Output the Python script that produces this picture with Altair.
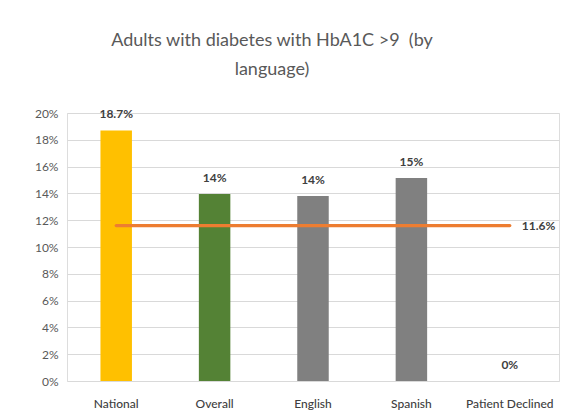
import altair as alt
import pandas as pd

categories = ["National", "Overall", "English", "Spanish", "Patient Declined"]
values = [0.187, 0.1395, 0.138, 0.1515, 0.0]
value_labels = ["18.7%", "14%", "14%", "15%", "0%"]
bar_colors = ["#FFC000", "#548235", "#808080", "#808080", "#808080"]
benchmark = 0.116
benchmark_label = "11.6%"
y_ticks = [0, 0.02, 0.04, 0.06, 0.08, 0.10, 0.12, 0.14, 0.16, 0.18, 0.20]

FONT = "Lato"

bars_df = pd.DataFrame({"cat": categories, "val": values, "lab": value_labels})
line_df = pd.DataFrame({"cat": categories, "val": [benchmark] * len(categories)})
bench_lab_df = pd.DataFrame({"cat": [categories[-1]], "val": [benchmark], "lab": [benchmark_label]})

x = alt.X("cat:N", sort=categories, title=None,
          scale=alt.Scale(paddingInner=0.68, paddingOuter=0.34),
          axis=alt.Axis(labelAngle=0, ticks=False, domain=False, labelPadding=17,
                        labelFont=FONT, labelFontSize=12, labelColor="#404040",
                        labelFontWeight=500, labelOverlap=False))
y = alt.Y("val:Q", title=None,
          scale=alt.Scale(domain=[0, 0.2], nice=False),
          axis=alt.Axis(values=y_ticks, format=".0%", ticks=False, domain=False,
                        labelOverlap=False, labelPadding=9, labelFont=FONT, labelFontSize=12,
                        labelColor="#595959", gridColor="#D9D9D9", gridWidth=1.2))

bars = alt.Chart(bars_df).mark_bar().encode(
    x=x, y=y,
    color=alt.Color("cat:N", scale=alt.Scale(domain=categories, range=bar_colors), legend=None),
)
bar_text = alt.Chart(bars_df).mark_text(
    dy=-12, baseline="alphabetic", font=FONT, fontSize=12, fontWeight="bold", color="#404040"
).encode(x=x, y=y, text="lab:N")

line = alt.Chart(line_df).mark_line(color="#ED7D31", strokeWidth=3.2, strokeCap="round").encode(
    x=x, y=y)
line_text = alt.Chart(bench_lab_df).mark_text(
    align="left", dx=12, baseline="middle", font=FONT, fontSize=12, fontWeight="bold", color="#404040"
).encode(x=x, y=y, text="lab:N")

chart = alt.layer(bars, bar_text, line, line_text).properties(
    width=492, height=268,
    title=alt.TitleParams(
        text=["Adults with diabetes with HbA1C >9 \u00a0(by", "language)"],
        font=FONT, fontSize=18, fontWeight="normal", color="#595959",
        anchor="middle", dx=-41, offset=28, lineHeight=29,
    ),
    autosize=alt.AutoSizeParams(type="none"),
    padding={"left": 59, "top": 105, "right": 5, "bottom": 32},
).configure_view(stroke="#D9D9D9", strokeWidth=1.2).configure(background="white")

chart.save("out.html", embed_options={"renderer": "svg", "actions": False})
